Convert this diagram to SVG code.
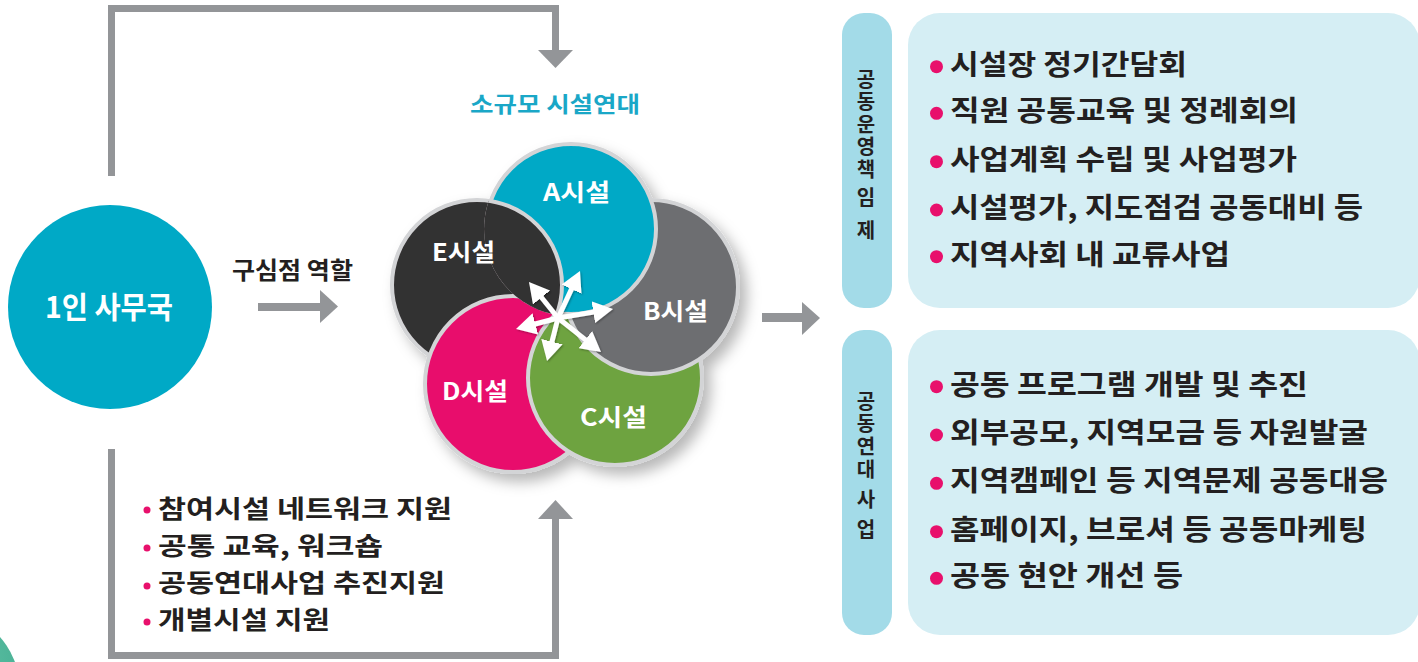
<svg xmlns="http://www.w3.org/2000/svg" width="1418" height="662" viewBox="0 0 1418 662">
<defs>
<style>
.t{font-family:"Noto Sans CJK KR","Noto Sans",sans-serif;font-weight:700;fill:#231f20}
.w{fill:#ffffff}
.c{fill:#1aa7c7}
.conn{fill:none;stroke:#939598;stroke-width:7}
.head{fill:#939598}
.rim{stroke:#d3d4d6;stroke-width:4}
.ar{stroke:#ffffff;stroke-width:5;fill:none;marker-end:url(#wh)}
.pk{fill:#e8106c}
.bar{fill:#a3dbe8}
.pan{fill:#d5eef4}
.vt{writing-mode:vertical-rl;text-orientation:upright;letter-spacing:2.5px}
</style>
<marker id="wh" markerUnits="userSpaceOnUse" markerWidth="22" markerHeight="22" refX="8" refY="11" orient="auto" viewBox="0 0 22 22"><path d="M0,0 L20,11 L0,22 Z" fill="#ffffff"/></marker>
<filter id="sh" x="-20%" y="-20%" width="150%" height="150%"><feDropShadow dx="7" dy="8" stdDeviation="7" flood-color="#000" flood-opacity="0.28"/></filter>
<filter id="ash" x="-30%" y="-30%" width="160%" height="160%"><feDropShadow dx="1" dy="1" stdDeviation="1" flood-color="#000" flood-opacity="0.35"/></filter>
<clipPath id="clipA"><circle cx="571" cy="229" r="87"/></clipPath>
<radialGradient id="gg" cx="0.7" cy="0.3" r="0.8"><stop offset="0" stop-color="#5cbfa3"/><stop offset="1" stop-color="#2f9d80"/></radialGradient>
</defs>

<g id="corner-deco"><circle cx="-60" cy="690" r="80" fill="url(#gg)"/></g>

<g id="connectors">
<path class="conn" d="M111.5,176 V8.5 H555.5 V52"/>
<polygon class="head" points="538,50 573,50 555.5,68"/>
<path class="conn" d="M111.5,449 V655.5 H555.5 V517"/>
<polygon class="head" points="538,519 573,519 555.5,500"/>
<path d="M258,307 H322" stroke="#939598" stroke-width="8" fill="none"/>
<polygon class="head" points="320,290 338,306.5 320,323"/>
<path d="M762,317.5 H804" stroke="#939598" stroke-width="9" fill="none"/>
<polygon class="head" points="802,302 820,318 802,335"/>
</g>

<g id="node-office">
<circle cx="110" cy="307" r="102" fill="#00a9c6"/>
<text class="t w" x="45" y="318" font-size="30" textLength="128" lengthAdjust="spacingAndGlyphs">1인 사무국</text>
</g>

<g id="label-role">
<text class="t" x="232" y="279" font-size="24" textLength="121" lengthAdjust="spacingAndGlyphs">구심점 역할</text>
</g>

<g id="label-title">
<text class="t c" x="470" y="112" font-size="22" textLength="170" lengthAdjust="spacingAndGlyphs">소규모 시설연대</text>
</g>

<g id="cluster" filter="url(#sh)">
<circle id="node-E" class="rim" cx="477" cy="285" r="85" fill="#333031"/>
<circle id="node-D" class="rim" cx="513" cy="384" r="88" fill="#e8106c"/>
<circle id="node-C" class="rim" cx="615" cy="378" r="87" fill="#6ea340"/>
<circle id="node-B" class="rim" cx="651" cy="287" r="87" fill="#6d6e71"/>
<circle id="node-A" class="rim" cx="571" cy="229" r="85" fill="#00a9c6"/>
<g clip-path="url(#clipA)"><circle class="rim" cx="477" cy="285" r="85" fill="#333031"/></g>
</g>

<g id="center-arrows" filter="url(#ash)">
<path class="ar" d="M558,318 L574.9,281.9"/>
<path class="ar" d="M558,318 L601.2,310.9"/>
<path class="ar" d="M558,318 L591.6,344.6"/>
<path class="ar" d="M558,318 L550,349.4"/>
<path class="ar" d="M558,318 L527.6,326"/>
<path class="ar" d="M558,318 L536.5,291.3"/>
</g>

<g id="circle-labels">
<text class="t w" x="543" y="201" font-size="24" textLength="67" lengthAdjust="spacingAndGlyphs">A시설</text>
<text class="t w" x="432" y="261" font-size="24" textLength="63" lengthAdjust="spacingAndGlyphs">E시설</text>
<text class="t w" x="643" y="320" font-size="24" textLength="65" lengthAdjust="spacingAndGlyphs">B시설</text>
<text class="t w" x="442" y="400" font-size="24" textLength="66" lengthAdjust="spacingAndGlyphs">D시설</text>
<text class="t w" x="580" y="426" font-size="24" textLength="67" lengthAdjust="spacingAndGlyphs">C시설</text>
</g>

<g id="support-list">
<circle class="pk" cx="147" cy="510" r="3.5"/>
<circle class="pk" cx="147" cy="548" r="3.5"/>
<circle class="pk" cx="147" cy="586" r="3.5"/>
<circle class="pk" cx="147" cy="622" r="3.5"/>
<text class="t" x="158" y="518" font-size="25" textLength="294" lengthAdjust="spacingAndGlyphs">참여시설 네트워크 지원</text>
<text class="t" x="158" y="555" font-size="25" textLength="225" lengthAdjust="spacingAndGlyphs">공통 교육, 워크숍</text>
<text class="t" x="158" y="592" font-size="25" textLength="287" lengthAdjust="spacingAndGlyphs">공동연대사업 추진지원</text>
<text class="t" x="158" y="629" font-size="25" textLength="172" lengthAdjust="spacingAndGlyphs">개별시설 지원</text>
</g>

<g id="bar-1">
<rect class="bar" x="842" y="13" width="50" height="295" rx="22"/>
<text class="t vt" x="866" y="69" font-size="20">공동운영책<tspan dy="5">임</tspan><tspan dy="11">제</tspan></text>
</g>

<g id="panel-1">
<rect class="pan" x="908" y="13" width="512" height="295" rx="32"/>
<circle class="pk" cx="936.5" cy="66.7" r="6.5"/>
<circle class="pk" cx="936.5" cy="113.3" r="6.5"/>
<circle class="pk" cx="936.5" cy="161.7" r="6.5"/>
<circle class="pk" cx="936.5" cy="210" r="6.5"/>
<circle class="pk" cx="936.5" cy="256.7" r="6.5"/>
<text class="t" x="950" y="75" font-size="28" textLength="237" lengthAdjust="spacingAndGlyphs">시설장 정기간담회</text>
<text class="t" x="950" y="121" font-size="28" textLength="348" lengthAdjust="spacingAndGlyphs">직원 공통교육 및 정례회의</text>
<text class="t" x="950" y="170" font-size="28" textLength="347" lengthAdjust="spacingAndGlyphs">사업계획 수립 및 사업평가</text>
<text class="t" x="950" y="218" font-size="28" textLength="413" lengthAdjust="spacingAndGlyphs">시설평가, 지도점검 공동대비 등</text>
<text class="t" x="950" y="265" font-size="28" textLength="280" lengthAdjust="spacingAndGlyphs">지역사회 내 교류사업</text>
</g>

<g id="bar-2">
<rect class="bar" x="842" y="330" width="50" height="305" rx="22"/>
<text class="t vt" x="866" y="391" font-size="20">공동연<tspan dy="0.5">대</tspan><tspan dy="7.5">사</tspan><tspan dy="7.5">업</tspan></text>
</g>

<g id="panel-2">
<rect class="pan" x="908" y="330" width="512" height="305" rx="32"/>
<circle class="pk" cx="936.5" cy="386.7" r="6.5"/>
<circle class="pk" cx="936.5" cy="435" r="6.5"/>
<circle class="pk" cx="936.5" cy="483.3" r="6.5"/>
<circle class="pk" cx="936.5" cy="531.7" r="6.5"/>
<circle class="pk" cx="936.5" cy="578.3" r="6.5"/>
<text class="t" x="950" y="395" font-size="28" textLength="358" lengthAdjust="spacingAndGlyphs">공동 프로그램 개발 및 추진</text>
<text class="t" x="950" y="443" font-size="28" textLength="418" lengthAdjust="spacingAndGlyphs">외부공모, 지역모금 등 자원발굴</text>
<text class="t" x="950" y="491" font-size="28" textLength="438" lengthAdjust="spacingAndGlyphs">지역캠페인 등 지역문제 공동대응</text>
<text class="t" x="950" y="540" font-size="28" textLength="417" lengthAdjust="spacingAndGlyphs">홈페이지, 브로셔 등 공동마케팅</text>
<text class="t" x="950" y="586" font-size="28" textLength="233" lengthAdjust="spacingAndGlyphs">공동 현안 개선 등</text>
</g>
</svg>
